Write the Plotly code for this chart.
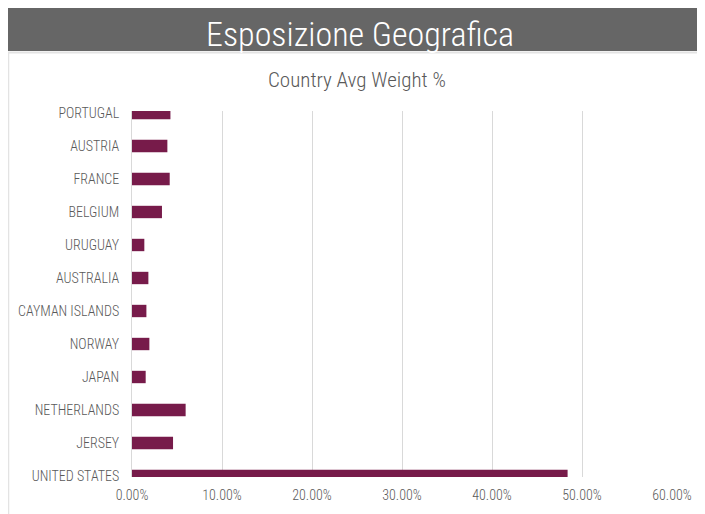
import plotly.graph_objects as go

countries = ["UNITED STATES", "JERSEY", "NETHERLANDS", "JAPAN", "NORWAY",
             "CAYMAN ISLANDS", "AUSTRALIA", "URUGUAY", "BELGIUM", "FRANCE",
             "AUSTRIA", "PORTUGAL"]
weights = [48.4, 4.56, 5.96, 1.52, 1.93, 1.60, 1.82, 1.37, 3.33, 4.19, 3.93, 4.27]

# page has an 8px body margin; figure coordinates are page coordinates minus 8
OFF = 8
W, H = 705 - OFF, 514 - OFF
L, R, T, B = 132 - OFF, 672 - OFF, 111 - OFF, 477 - OFF
FONT = "Roboto Condensed, Liberation Sans Narrow, sans-serif"
GRAY = "#595959"

def px(x):
    return (x - OFF - L) / (R - L)

def py(y):
    return (B - (y - OFF)) / (B - T)

fig = go.Figure(go.Bar(
    x=weights, y=countries, orientation="h",
    marker=dict(color="#771B4A", line=dict(width=0)),
    width=0.375, hoverinfo="x+y",
))

fig.update_layout(
    width=W, height=H,
    margin=dict(l=L, r=W - R, t=T, b=H - B, autoexpand=False),
    paper_bgcolor="white", plot_bgcolor="white",
    showlegend=False,
    font=dict(family=FONT, color=GRAY, size=14, weight=300),
    xaxis=dict(range=[0, 60], dtick=10, tickformat=".2f", ticksuffix="%",
               showgrid=True, gridcolor="#D9D9D9", gridwidth=1,
               zeroline=False, showline=False, ticks="", automargin=False,
               ticklabelstandoff=8,
               tickfont=dict(family=FONT, size=14, color=GRAY, weight=300),
               fixedrange=True),
    yaxis=dict(type="category", categoryorder="array", categoryarray=countries,
               range=[-0.03, 11.06], showgrid=False, zeroline=False,
               showline=True, linecolor="#D9D9D9", linewidth=1, ticks="",
               automargin=False, ticklabelstandoff=9,
               tickfont=dict(family=FONT, size=14, color=GRAY, weight=300),
               fixedrange=True),
    shapes=[
        dict(type="rect", xref="paper", yref="paper",
             x0=px(8), x1=px(706), y0=py(51), y1=py(6),
             fillcolor="#666666", line=dict(width=0), layer="below"),
        dict(type="line", xref="paper", yref="paper",
             x0=px(8), x1=px(706), y0=py(52.5), y1=py(52.5),
             line=dict(color="#E3E3E3", width=2)),
        dict(type="line", xref="paper", yref="paper",
             x0=px(8.5), x1=px(8.5), y0=py(52), y1=py(515),
             line=dict(color="#E3E3E3", width=1.5)),
    ],
    annotations=[
        dict(text="Esposizione Geografica", xref="paper", yref="paper",
             x=px(360), y=py(34), xanchor="center", yanchor="middle",
             showarrow=False,
             font=dict(family=FONT, size=34, color="white", weight=300)),
        dict(text="Country Avg Weight %", xref="paper", yref="paper",
             x=px(357), y=py(80), xanchor="center", yanchor="middle",
             showarrow=False,
             font=dict(family=FONT, size=21, color=GRAY, weight=300)),
    ],
)

fig.write_html("out.html")
